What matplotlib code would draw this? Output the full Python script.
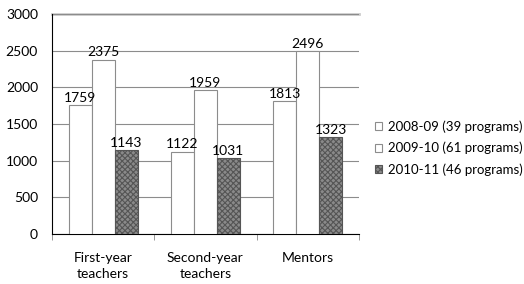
import matplotlib
matplotlib.use("Agg")
import matplotlib.pyplot as plt
import numpy as np

categories = ["First-year\nteachers", "Second-year\nteachers", "Mentors"]
series = ["2008-09 (39 programs)", "2009-10 (61 programs)", "2010-11 (46 programs)"]
v0809 = [1759, 1122, 1813]
v0910 = [2375, 1959, 2496]
v1011 = [1143, 1031, 1323]

plt.rcParams["font.family"] = ["Lato", "DejaVu Sans"]
plt.rcParams["font.size"] = 10
plt.rcParams["hatch.color"] = "#2a2a2a"
plt.rcParams["hatch.linewidth"] = 0.8

fig = plt.figure(figsize=(5.24, 2.84), dpi=100)
ax = fig.add_axes([0.099, 0.176, 0.586, 0.775])

x = np.arange(len(categories))
w = 0.225
styles = [
    dict(facecolor="white", edgecolor="#8c8c8c", hatch=None),
    dict(facecolor="white", edgecolor="#8c8c8c", hatch=None),
    dict(facecolor="#8a8a8a", edgecolor="#555555", hatch="xxxxxx"),
]
for i, (vals, lab, st) in enumerate(zip([v0809, v0910, v1011], series, styles)):
    bars = ax.bar(x + (i - 1) * w, vals, w, label=lab, linewidth=0.8, zorder=3, **st)
    for b, v in zip(bars, vals):
        ax.annotate(str(v), (b.get_x() + b.get_width() / 2, v), xytext=(0, 1),
                    textcoords="offset points", ha="center", va="bottom",
                    fontsize=10, zorder=4)

ax.set_ylim(0, 3000)
ax.set_yticks(np.arange(0, 3001, 500))
ax.set_xlim(-0.5, 2.5)
ax.set_xticks(x)
ax.set_xticklabels(categories, linespacing=1.35)
ax.set_xticks([-0.5, 0.5, 1.5, 2.5], minor=True)
ax.tick_params(axis="x", which="major", length=0, pad=13)
ax.tick_params(axis="x", which="minor", length=4, color="#888888")
ax.tick_params(axis="y", length=0, pad=10)
ax.grid(axis="y", color="#8c8c8c", linewidth=0.8, zorder=0)
for s in ["top", "right"]:
    ax.spines[s].set_visible(False)
ax.spines["left"].set_color("black")
ax.spines["bottom"].set_color("black")
ax.axhline(3000, color="#cccccc", linewidth=2, zorder=1, clip_on=False)

fig.legend(loc="center left", bbox_to_anchor=(0.706, 0.479), frameon=False,
           handlelength=0.55, handleheight=0.55, handletextpad=0.4,
           labelspacing=0.67, fontsize=9.5, borderaxespad=0)

fig.savefig("out.png", dpi=100)
